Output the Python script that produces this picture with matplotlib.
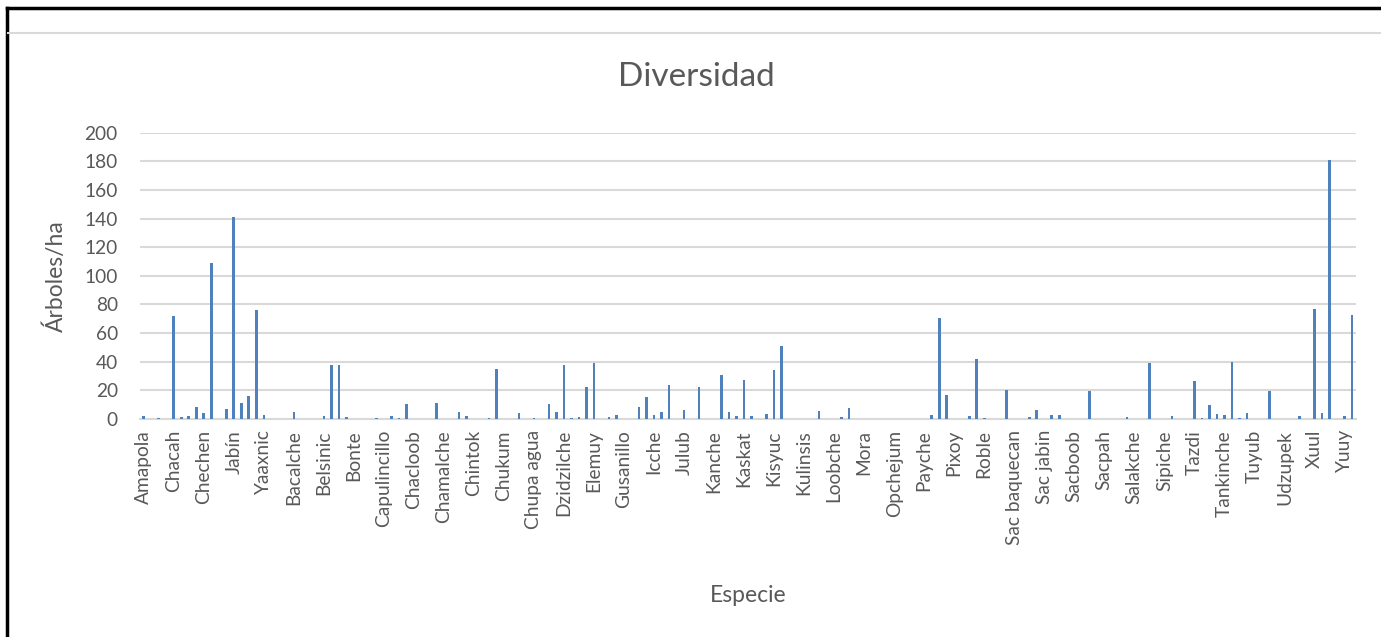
import matplotlib
matplotlib.use("Agg")
import matplotlib.pyplot as plt
from matplotlib.lines import Line2D

plt.rcParams['font.family'] = ['Lato', 'DejaVu Sans']

# one label every 4 species (Excel shows every 4th category)
tick_labels = [
    "Amapola", "Chacah", "Chechen", "Jabín", "Yaaxnic", "Bacalche", "Belsinic",
    "Bonte", "Capulincillo", "Chacloob", "Chamalche", "Chintok", "Chukum",
    "Chupa agua", "Dzidzilche", "Elemuy", "Gusanillo", "Icche", "Julub",
    "Kanche", "Kaskat", "Kisyuc", "Kulinsis", "Loobche", "Mora", "Opchejum",
    "Payche", "Pixoy", "Roble", "Sac baquecan", "Sac jabin", "Sacboob",
    "Sacpah", "Salakche", "Sipiche", "Tazdi", "Tankinche", "Tuyub", "Udzupek",
    "Xuul", "Yuuy",
]

# arboles/ha for the 162 species
arboles_ha = [
    2, 0, 0.5, 0.3, 72, 1.6, 2, 8.4, 4, 109,
    0.3, 7, 141, 11, 16, 76, 3, 0.3, 0, 0,
    5, 0, 0, 0, 2, 38, 37.5, 1.4, 0, 0.3,
    0.3, 0.5, 0, 2, 1, 10.3, 0, 0, 0, 11,
    0, 0, 5, 2, 0, 0, 0.5, 35, 0, 0,
    4.2, 0, 0.5, 0, 10.5, 5, 38, 0.5, 1.4, 22.5,
    39, 0, 1.4, 2.6, 0, 0, 8.2, 15.6, 2.8, 5,
    24, 0, 6, 0, 22.6, 0, 0, 31, 4.7, 1.9,
    27, 2, 0, 3.7, 34, 51, 0, 0, 0, 0,
    5.6, 0, 0, 1.4, 7.5, 0, 0, 0, 0.3, 0,
    0.3, 0, 0.3, 0, 0, 2.6, 70.5, 16.5, 0, 0,
    2, 42, 1, 0, 0, 20, 0, 0.3, 1.4, 6.5,
    0, 2.6, 3, 0, 0.3, 0, 19.6, 0, 0, 0,
    0, 1.4, 0, 0.3, 39.2, 0, 0, 2, 0, 0,
    26.6, 1, 9.6, 3.5, 2.6, 40, 1, 4.4, 0, 0,
    19.6, 0, 0, 0, 1.9, 0, 77, 4.2, 181, 0,
    2, 72.4,
]

grey_text = '#595959'
grid_col = '#d9d9d9'

fig = plt.figure(figsize=(13.81, 6.37), dpi=100)
ax = fig.add_axes([140 / 1381, 1 - 419 / 637, 1215.7 / 1381, 286.3 / 637])

x = list(range(len(arboles_ha)))
ax.bar(x, arboles_ha, width=0.35, color='#4f81bd', zorder=3)

ax.set_xlim(-0.5, len(arboles_ha) - 0.5)
ax.set_ylim(0, 200)
ax.set_yticks(range(0, 201, 20))
ax.set_xticks(x[::4])
ax.set_xticklabels(tick_labels, rotation=90)

ax.grid(axis='y', color=grid_col, linewidth=1.5, zorder=0)
ax.set_axisbelow(True)
for side in ['top', 'right', 'left']:
    ax.spines[side].set_visible(False)
ax.spines['bottom'].set_color(grid_col)
ax.spines['bottom'].set_linewidth(1.5)
ax.tick_params(axis='both', length=0, labelsize=13.8, labelcolor=grey_text)
ax.tick_params(axis='y', pad=16)
ax.tick_params(axis='x', pad=8)

fig.text(696 / 1381, 1 - 77 / 637, 'Diversidad', ha='center', va='center',
         fontsize=24, color=grey_text)
fig.text(56 / 1381, 1 - 276 / 637, 'Árboles/ha', ha='center', va='center',
         rotation=90, fontsize=16.5, color=grey_text)
fig.text(748 / 1381, 1 - 595 / 637, 'Especie', ha='center', va='center',
         fontsize=16.5, color=grey_text)

# frame of the surrounding document
fig.add_artist(Line2D([7 / 1381, 7 / 1381], [0, 1 - 8 / 637], color='black',
                      linewidth=2.5, transform=fig.transFigure))
fig.add_artist(Line2D([7 / 1381, 1], [1 - 8 / 637, 1 - 8 / 637], color='black',
                      linewidth=2.5, transform=fig.transFigure))
fig.add_artist(Line2D([8 / 1381, 1], [1 - 33 / 637, 1 - 33 / 637], color=grid_col,
                      linewidth=1.5, transform=fig.transFigure))

fig.savefig('out.png', dpi=100, facecolor='white')
plt.close(fig)
